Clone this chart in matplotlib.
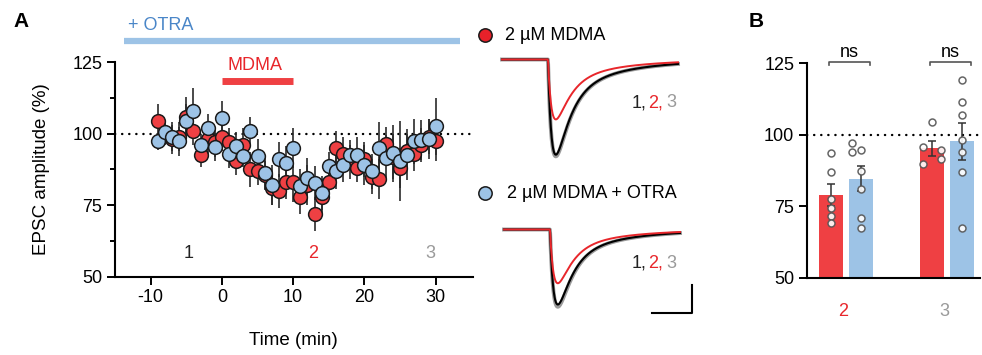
import numpy as np
import matplotlib
matplotlib.use("Agg")
import matplotlib.pyplot as plt

plt.rcParams['font.family'] = ['Liberation Sans', 'DejaVu Sans']
plt.rcParams['font.size'] = 13
plt.rcParams['axes.unicode_minus'] = False

RED = '#EF4043'
BLUE = '#9DC3E6'
TXT_RED = '#E8262B'
TXT_BLUE = '#4A86C8'
GREY = '#9A9A9A'

# time course (panel A)
time_min = list(range(-9, 31))
mdma_mean = [104.5, 100, 98, 99, 106, 101, 92.5, 98, 97, 99,
             97, 90.5, 96, 87.5, 87, 85.5, 81, 80, 83, 83,
             78, 82, 72, 78, 83, 95, 93, 90, 88, 91,
             85, 84, 96.5, 92, 88, 94, 93, 96, 99, 97.5]
mdma_sem = [6, 4, 5, 5, 7, 5, 4, 5, 5, 5,
            5, 5, 6, 6, 5, 5, 6, 6, 6, 7,
            6, 7, 6, 6, 5, 6, 6, 6, 5, 6,
            6, 7, 6, 8, 7, 6, 6, 6, 6, 7]
otra_mean = [97.3, 100.5, 99, 97.3, 104.3, 108, 96, 102, 95.3, 105.5,
             93, 95.6, 92.3, 101, 92.3, 86.2, 82, 91, 89.7, 95,
             81.6, 84.4, 82.7, 79.3, 88.6, 86.8, 89.2, 92.7, 92.7, 89.2,
             86.8, 95, 91.6, 93.2, 90.3, 92.7, 97.3, 97.9, 98.1, 102.6]
otra_sem = [3, 4, 5, 5, 6, 8, 4, 5, 5, 6,
            5, 5, 4, 5, 6, 6, 7, 6, 6, 7,
            6, 7, 6, 6, 5, 6, 6, 5, 6, 7,
            6, 9, 8, 10, 14, 9, 8, 7, 7, 10]

# individual cells (panel B)
group_labels = ['2', '3']
mdma_cells_2 = [93.5, 87, 77.5, 74.5, 71.5, 69]
otra_cells_2 = [97, 94, 94.7, 87.5, 81, 71, 67.5]
mdma_cells_3 = [95.7, 104.5, 89.8, 94.5, 91.6]
otra_cells_3 = [119, 111.5, 107, 98, 94, 87, 67.5]

# example EPSC amplitudes (pA) for epochs 1, 2, 3
epochs = ['1', '2', '3']
mdma_trace_amp = [170, 107, 173]
otra_trace_amp = [134, 96, 138]

fig = plt.figure(figsize=(9.82, 3.55), dpi=100)

# ---------------- panel A ----------------
ax = fig.add_axes([0.1171, 0.2211, 0.3643, 0.6034])
ax.axhline(100, color='black', lw=1.7, ls=(0, (0.1, 2.9)),
           dash_capstyle='round', zorder=1)
ax.errorbar(time_min, mdma_mean, yerr=mdma_sem, fmt='none',
            ecolor='#2b2b2b', elinewidth=1.2, zorder=2)
ax.errorbar(time_min, otra_mean, yerr=otra_sem, fmt='none',
            ecolor='#2b2b2b', elinewidth=1.2, zorder=2)
ax.plot(time_min, mdma_mean, 'o', ms=9.9, mfc=RED, mec='#1a1a1a',
        mew=1.1, zorder=3)
ax.plot(time_min, otra_mean, 'o', ms=9.9, mfc=BLUE, mec='#1a1a1a',
        mew=1.1, zorder=4)

ax.set_xlim(-15, 35.2)
ax.set_ylim(50, 125)
ax.set_xticks([-10, 0, 10, 20, 30])
ax.set_yticks([50, 75, 100, 125])
ax.set_yticks([62.5, 87.5, 112.5], minor=True)
ax.tick_params(axis='both', width=1.4, length=6, labelsize=13, pad=3)
ax.tick_params(axis='y', which='minor', width=1.4, length=3.5)
for s in ['top', 'right']:
    ax.spines[s].set_visible(False)
for s in ['left', 'bottom']:
    ax.spines[s].set_linewidth(1.5)
ax.set_xlabel('Time (min)', fontsize=13.5, labelpad=19)
ax.set_ylabel('EPSC amplitude (%)', fontsize=13.5, labelpad=16)

# drug bars
ax.plot([-13.8, 33.4], [132.5, 132.5], color=BLUE, lw=4.5,
        solid_capstyle='butt', clip_on=False)
ax.text(-13.2, 137.8, '+ OTRA', color=TXT_BLUE, fontsize=13,
        ha='left', va='center', clip_on=False)
ax.plot([0, 10], [118.3, 118.3], color=RED, lw=5,
        solid_capstyle='butt', clip_on=False)
ax.text(4.6, 124, 'MDMA', color=TXT_RED, fontsize=13, ha='center',
        va='center')

for xt, lab, c in zip([-4.7, 12.8, 29.2], epochs, ['#222222', TXT_RED, GREY]):
    ax.text(xt, 58, lab, color=c, fontsize=13, ha='center', va='center')

fig.text(0.021, 0.94, 'A', fontsize=15, fontweight='bold', ha='center',
         va='center')
fig.text(0.770, 0.94, 'B', fontsize=15, fontweight='bold', ha='center',
         va='center')

# ---------------- panel B ----------------
bx = fig.add_axes([0.8215, 0.2177, 0.1765, 0.604])
bx.axhline(100, color='black', lw=1.7, ls=(0, (0.1, 2.9)),
           dash_capstyle='round', zorder=1)
groups = [(mdma_cells_2, otra_cells_2), (mdma_cells_3, otra_cells_3)]
jitters = [([0, 0, 0, 0, 0, 0], [-0.09, -0.09, 0, 0, 0, 0, 0]),
           ([-0.09, 0, -0.09, 0.09, 0.09], [0, 0, 0, 0, 0, 0, 0])]
off = 0.149
w = 0.238
for gi, (pair, jit) in enumerate(zip(groups, jitters)):
    for k, (vals, col) in enumerate(zip(pair, [RED, BLUE])):
        xc = gi + (-off if k == 0 else off)
        vals = np.array(vals)
        m = vals.mean()
        se = vals.std(ddof=1) / np.sqrt(len(vals))
        bx.bar(xc, m, width=w, color=col, zorder=2)
        bx.errorbar(xc, m, yerr=se, fmt='none', ecolor='#333333',
                    elinewidth=1.1, capsize=3, capthick=1.1, zorder=3)
        bx.plot(xc + np.array(jit[k]), vals, 'o', ms=5.0, mfc='white',
                mec='#555555', mew=1.1, alpha=0.9, zorder=4)
    # significance bracket
    x0, x1 = gi - 0.17, gi + 0.24
    bx.plot([x0, x0, x1, x1], [124.3, 125.6, 125.6, 124.3], color='#555555',
            lw=1.2, clip_on=False)
    bx.text((x0 + x1) / 2, 128.8, 'ns', fontsize=13, ha='center',
            va='center')

bx.set_xlim(-0.387, 1.329)
bx.set_ylim(50, 125)
bx.set_yticks([50, 75, 100, 125])
bx.set_xticks([])
bx.tick_params(axis='y', width=1.4, length=6, labelsize=13, pad=3)
for s in ['top', 'right']:
    bx.spines[s].set_visible(False)
for s in ['left', 'bottom']:
    bx.spines[s].set_linewidth(1.5)
for gi, (lab, c) in enumerate(zip(group_labels, [TXT_RED, GREY])):
    bx.text(gi - 0.025, 38.3, lab, color=c, fontsize=13, ha='center',
            va='center', clip_on=False)

# ---------------- example traces ----------------
tx = fig.add_axes([0, 0, 1, 1])
tx.set_xlim(0, 982)
tx.set_ylim(355, 0)
tx.axis('off')
tx.patch.set_alpha(0)

px_per_ms = 4.0
px_per_pA = 0.56
t = np.linspace(0, 44, 600)
onset = 11.5
tau_rise, tau_fast, tau_slow, w_slow = 1.3, 3.6, 15.0, 0.2
tt = np.clip(t - onset, 0, None)
shape = ((1 - w_slow) * np.exp(-tt / tau_fast) + w_slow * np.exp(-tt / tau_slow)) \
    * (1 - np.exp(-tt / tau_rise))
shape = shape / shape.max()

for amps, base, x0 in [(mdma_trace_amp, 59.5, 502), (otra_trace_amp, 229.5, 504)]:
    xs = x0 + t * px_per_ms
    tx.plot(xs, base + amps[2] * px_per_pA * shape, color=GREY, lw=2.8)
    tx.plot(xs, base + amps[0] * px_per_pA * shape, color='black', lw=1.5)
    tx.plot(xs, base + amps[1] * px_per_pA * shape, color='#E8262B', lw=1.4)

for yb in [107, 268]:
    for xp, lab, c in zip([631.5, 648, 666.5], ['1,', '2,', '3'],
                          ['#222222', TXT_RED, GREY]):
        tx.text(xp, yb, lab, color=c, fontsize=13, ha='left',
                va='baseline')

tx.plot([485], [35], 'o', ms=9.6, mfc='#E8212A', mec='#1a1a1a', mew=1.1)
tx.text(505, 35, '2 µM MDMA', fontsize=13, ha='left', va='center')
tx.plot([485], [193], 'o', ms=9.6, mfc=BLUE, mec='#1a1a1a', mew=1.1)
tx.text(507, 193, '2 µM MDMA + OTRA', fontsize=13, ha='left', va='center')

# scale bar
tx.plot([652, 692, 692], [313, 313, 285], color='black', lw=1.5)

fig.savefig('out.png', dpi=100)
